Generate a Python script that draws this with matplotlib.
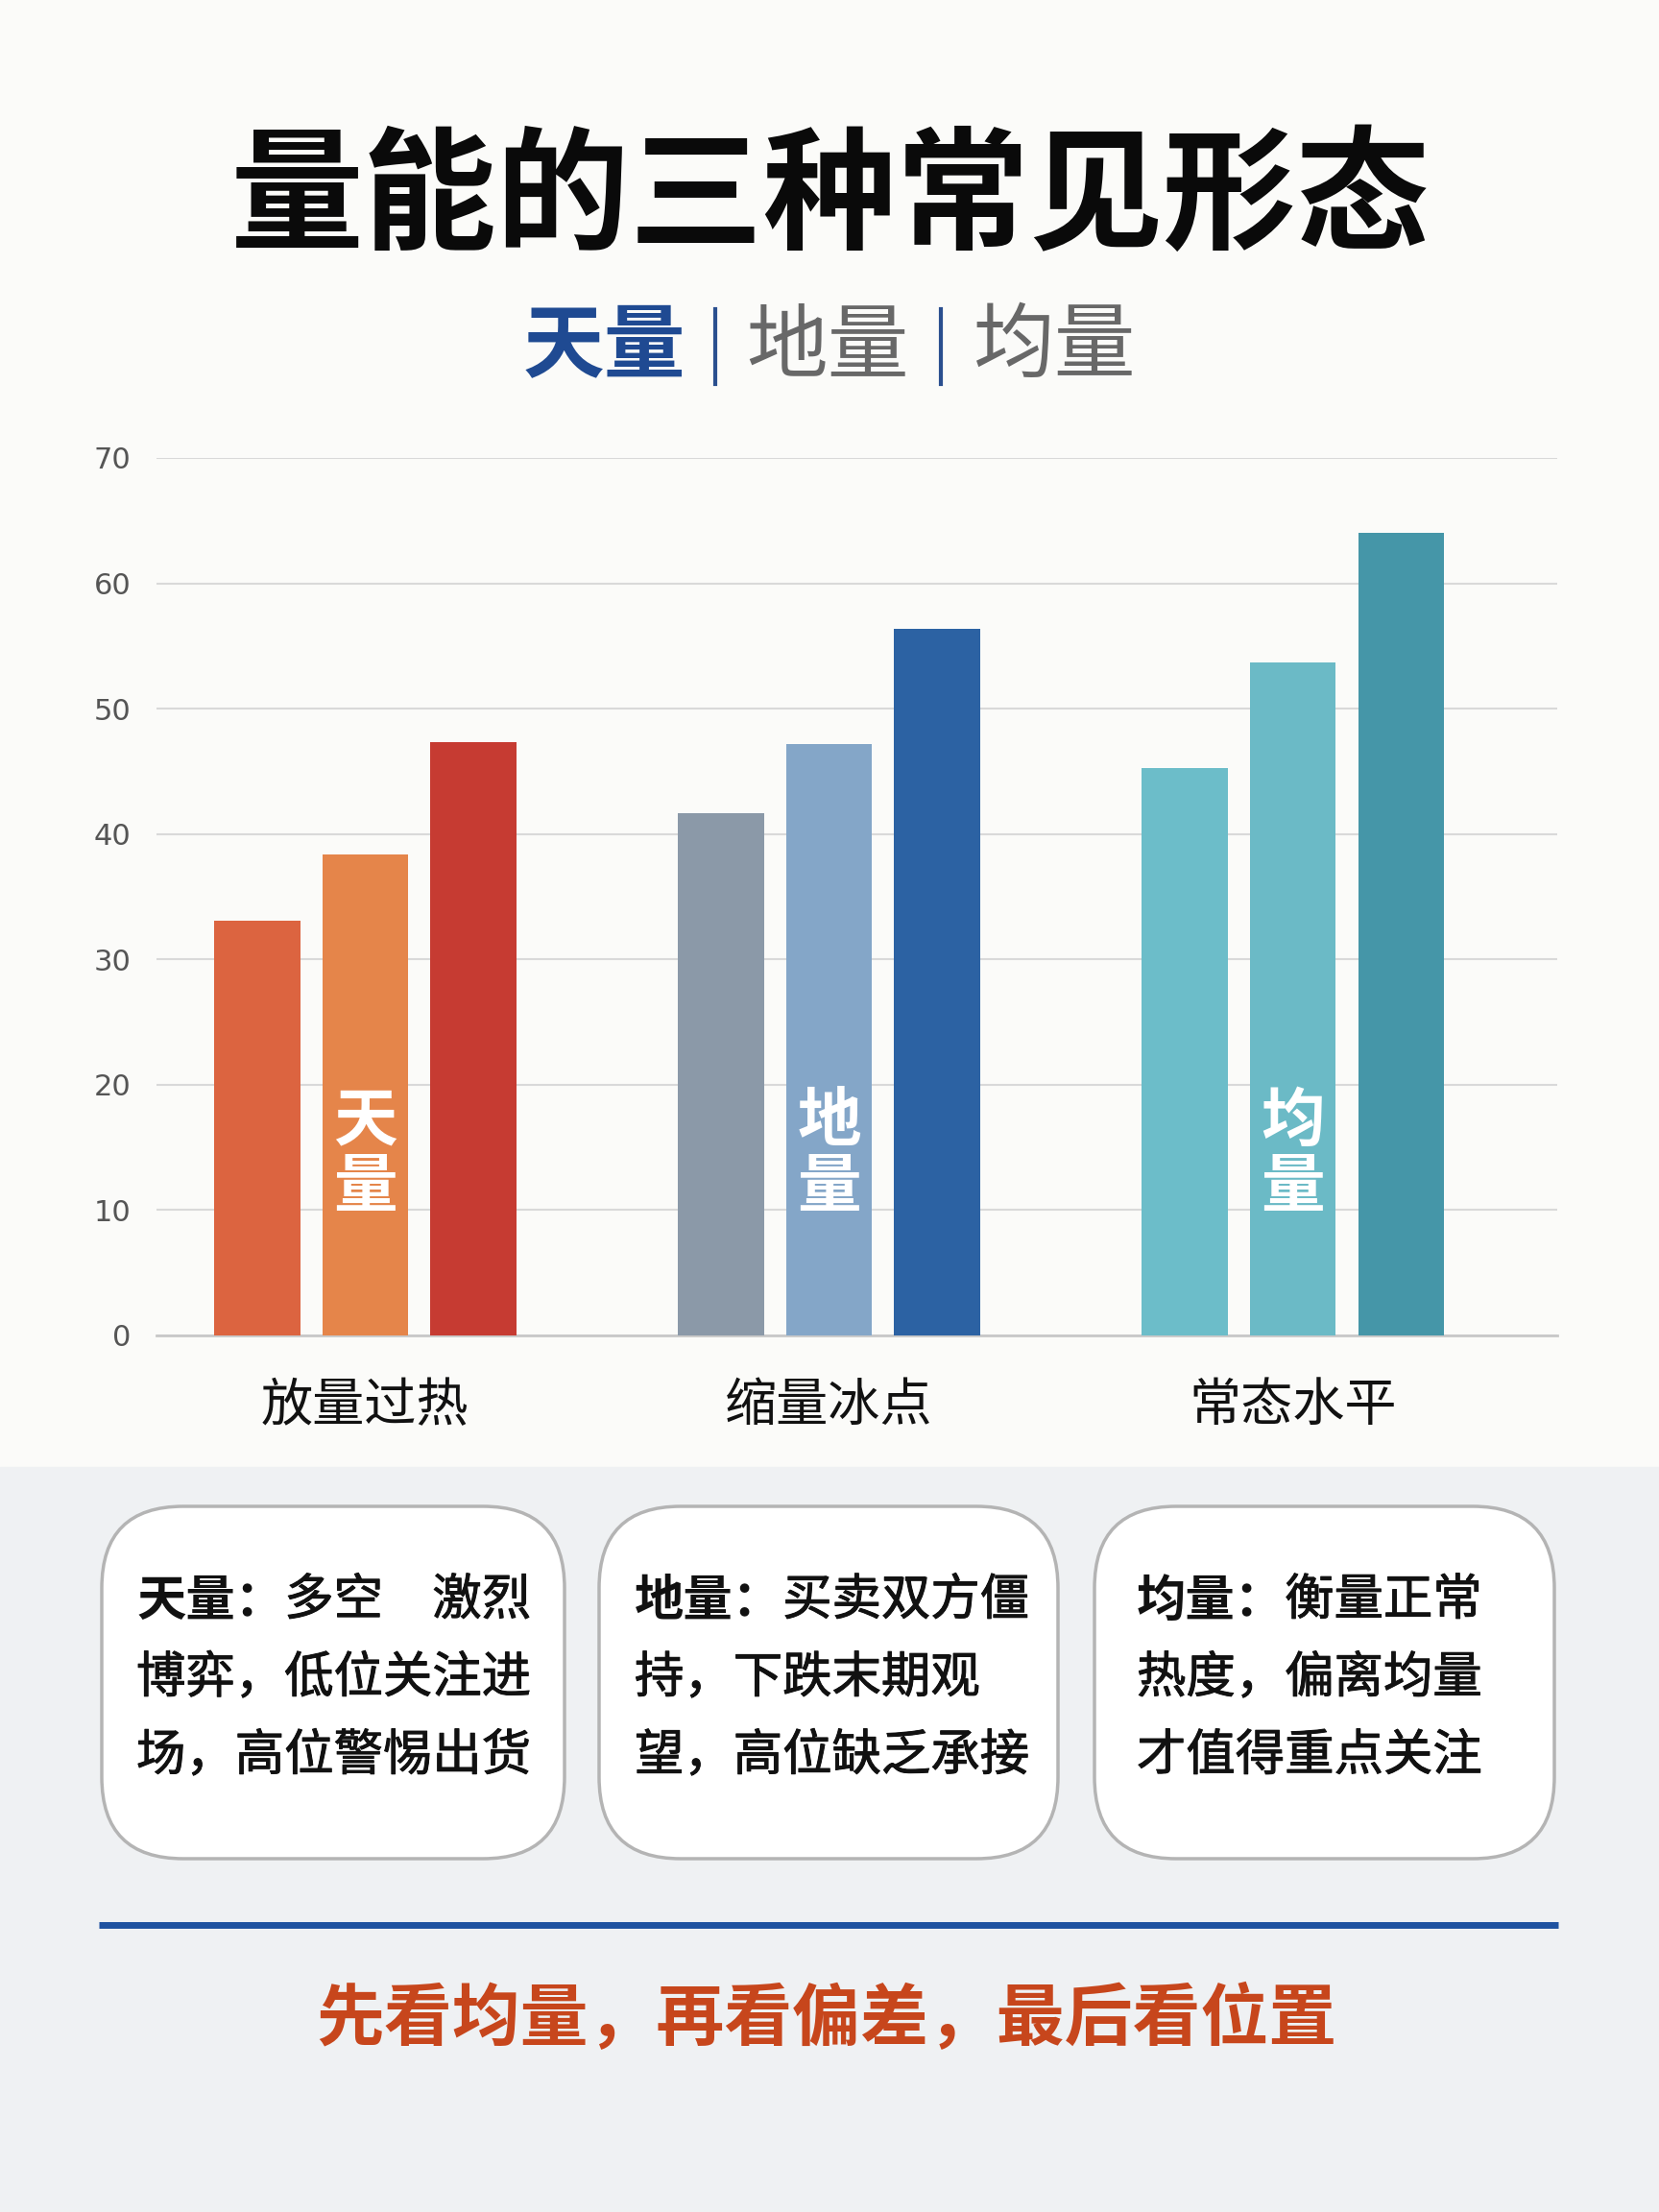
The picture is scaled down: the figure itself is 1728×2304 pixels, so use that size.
import numpy as np
import matplotlib.pyplot as plt
import matplotlib.patheffects as pe
from matplotlib.patches import FancyBboxPatch, Rectangle

plt.rcParams['font.family'] = ['Noto Sans CJK SC', 'DejaVu Sans']

# data
categories = ['放量过热', '缩量冰点', '常态水平']
bar_low = [33.1, 41.7, 45.3]
bar_mid = [38.4, 47.2, 53.7]
bar_high = [47.3, 56.4, 64.0]
in_bar_labels = ['天\n量', '地\n量', '均\n量']
y_ticks = [0, 10, 20, 30, 40, 50, 60, 70]

# colours per group: (low, mid, high)
colors_low = ['#dc6440', '#8b99a8', '#6cbdc9']
colors_mid = ['#e5854a', '#84a6c8', '#6bbac6']
colors_high = ['#c63b32', '#2c62a3', '#4596a8']

box_heads = ['天量：', '地量：', '均量：']
box_lines = [
    ['多空　激烈', '博弈，低位关注进', '场，高位警惕出货'],
    ['买卖双方僵', '持，下跌末期观', '望，高位缺乏承接'],
    ['衡量正常', '热度，偏离均量', '才值得重点关注'],
]

W, H = 1728, 2304
fig = plt.figure(figsize=(W / 100, H / 100), dpi=100)

# background layer in pixel units
bg = fig.add_axes([0, 0, 1, 1], zorder=0)
bg.set_xlim(0, W)
bg.set_ylim(H, 0)
bg.axis('off')
bg.add_patch(Rectangle((0, 0), W, 1528, color='#fbfbf9', zorder=0))
bg.add_patch(Rectangle((0, 1528), W, H - 1528, color='#eff1f3', zorder=0))

# title + subtitle
bg.text(865, 208, '量能的三种常见形态', fontsize=100, weight='bold',
        color='#0a0a0a', ha='center', va='center')
bg.text(629, 362, '天量', fontsize=61, weight='bold', color='#1f4a92',
        ha='center', va='center')
bg.text(862, 362, '地量', fontsize=61, weight='medium', color='#686868',
        ha='center', va='center')
bg.text(1099, 362, '均量', fontsize=61, weight='medium', color='#686868',
        ha='center', va='center')
for sx in [745, 980]:
    bg.plot([sx, sx], [322, 400], color='#2a4f8f', lw=3)

# bar chart
ax = fig.add_axes([163 / W, 1 - 1391 / H, (1622 - 163) / W, (1391 - 477) / H], zorder=1)
ax.patch.set_alpha(0)
x = np.arange(len(categories))
off, bw = 0.233, 0.185
ax.bar(x - off, bar_low, bw, color=colors_low, zorder=3)
ax.bar(x, bar_mid, bw, color=colors_mid, zorder=3)
ax.bar(x + off, bar_high, bw, color=colors_high, zorder=3)
for i, lab in enumerate(in_bar_labels):
    ax.text(x[i], 14.4, lab, fontsize=48, weight='bold', color='white',
            ha='center', va='center', linespacing=1.05, zorder=4)

ax.set_xlim(-0.45, 2.57)
ax.set_ylim(0, 70)
ax.set_yticks(y_ticks)
ax.set_yticklabels([str(t) for t in y_ticks], fontsize=22, color='#555555',
                   family='DejaVu Sans')
ax.set_xticks(x)
ax.set_xticklabels(categories, fontsize=39, color='#111111', weight='medium')
ax.tick_params(axis='both', length=0)
ax.tick_params(axis='y', pad=19)
ax.tick_params(axis='x', pad=33)
ax.yaxis.grid(True, color='#d9d9d9', lw=1.5, zorder=0)
ax.set_axisbelow(True)
for s in ['top', 'right', 'left']:
    ax.spines[s].set_visible(False)
ax.spines['bottom'].set_color('#c8c8c8')
ax.spines['bottom'].set_linewidth(2)

# explanation boxes
box_x = [(106, 588), (624, 1102), (1140, 1619)]
text_x = [142, 661, 1184]
line_y = [1667, 1748, 1829]
fs = 37
thick = [pe.withStroke(linewidth=0.7, foreground='#111111')]
for k in range(3):
    x0, x1 = box_x[k]
    bg.add_patch(FancyBboxPatch((x0, 1569), x1 - x0, 1936 - 1569,
                                boxstyle='round,pad=0,rounding_size=85',
                                facecolor='white', edgecolor='#b4b4b4', lw=2.5, zorder=2))
    bg.text(text_x[k], line_y[0], box_heads[k], fontsize=fs, weight='bold',
            color='#111111', va='center', ha='left', zorder=3)
    bg.annotate(box_lines[k][0], xy=(text_x[k], line_y[0]), xytext=(3 * fs, 0),
                textcoords='offset points', fontsize=fs, weight='medium',
                color='#111111', va='center', ha='left', zorder=3,
                path_effects=thick)
    for j in (1, 2):
        bg.text(text_x[k], line_y[j], box_lines[k][j], fontsize=fs, weight='medium',
                color='#111111', va='center', ha='left', zorder=3,
                path_effects=thick)

# divider + conclusion
bg.plot([103, 1623], [2005, 2005], color='#1f52a0', lw=5, solid_capstyle='butt')
bg.text(861, 2104, '先看均量，再看偏差，最后看位置', fontsize=51, weight='bold',
        color='#c7461c', ha='center', va='center')

fig.savefig('out.png', dpi=100)
